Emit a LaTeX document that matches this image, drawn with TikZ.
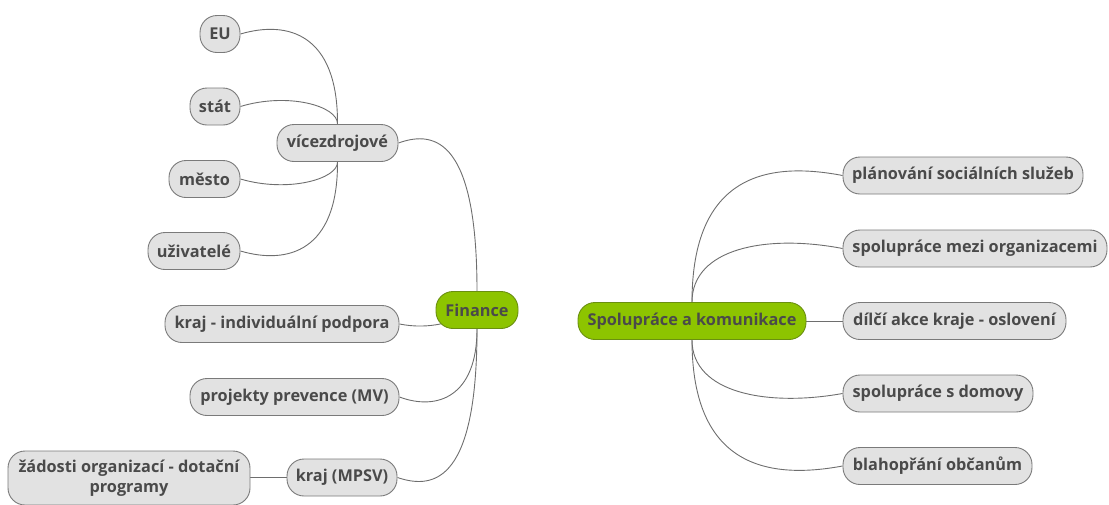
\documentclass[tikz,border=0pt]{standalone}
\usepackage{fontspec}
\setmainfont{Open Sans}
\usetikzlibrary{backgrounds}
\definecolor{boxfill}{HTML}{E2E2E2}
\definecolor{boxline}{HTML}{7A7A7A}
\definecolor{boxtext}{HTML}{4A4A4A}
\definecolor{rootfill}{HTML}{8DC400}
\definecolor{rootline}{HTML}{6A8F10}
\definecolor{linkcol}{HTML}{6E6E6E}
\tikzset{
  topic/.style={draw=boxline, fill=boxfill, text=boxtext, line width=0.9pt,
    rounded corners=17pt, minimum height=37pt, inner xsep=2pt, inner ysep=2pt,
    font=\fontsize{16.3}{20}\selectfont\bfseries, align=center},
  root/.style={topic, draw=rootline, fill=rootfill},
  link/.style={draw=linkcol, line width=0.9pt},
}
\begin{document}
\begin{tikzpicture}[x=1pt,y=-1pt]
\useasboundingbox (0,0) rectangle (1109,504);
% left side
\node[root, minimum width=82pt] (fin) at (477,310) {Finance};
\node[topic, minimum width=121pt] (vic) at (337.5,143) {vícezdrojové};
\node[topic, minimum width=40pt] (eu) at (220,34) {EU};
\node[topic, minimum width=50pt] (stat) at (215,106.5) {stát};
\node[topic, minimum width=71pt] (mesto) at (204.5,179) {město};
\node[topic, minimum width=92pt] (uziv) at (194,251) {uživatelé};
\node[topic, minimum width=234pt] (kind) at (282,324) {kraj - individuální podpora};
\node[topic, minimum width=209pt] (proj) at (294.5,397) {projekty prevence (MV)};
\node[topic, minimum width=110pt] (mpsv) at (342,477.5) {kraj (MPSV)};
\node[topic, minimum width=242pt, minimum height=54pt, inner ysep=1pt] (zad) at (129,478)
  {žádosti organizací - dotační\\programy};
% right side
\node[root, minimum width=228pt] (spol) at (692,321) {Spolupráce a komunikace};
\node[topic, minimum width=240pt] (plan) at (963,175.5) {plánování sociálních služeb};
\node[topic, minimum width=264pt] (mezi) at (975,248.5) {spolupráce mezi organizacemi};
\node[topic, minimum width=223pt] (dilci) at (954.5,321) {dílčí akce kraje - oslovení};
\node[topic, minimum width=190pt] (domov) at (938,393.5) {spolupráce s domovy};
\node[topic, minimum width=189pt] (blaho) at (937.5,466) {blahopřání občanům};
\begin{scope}[on background layer]
% Finance branches
\draw[link] (fin.north) .. controls (477,143) and (437,129) .. (vic.east);
\draw[link] (fin.center) .. controls (455,322) and (430,330) .. (kind.east);
\draw[link] (fin.south) .. controls (477,397) and (437,411) .. (proj.east);
\draw[link] (fin.south) .. controls (477,477) and (437,491) .. (mpsv.east);
\draw[link] (mpsv.west) -- (zad.east |- mpsv.west);
% vicezdrojove branches
\draw[link] (vic.north) .. controls (338,34) and (288,20) .. (eu.east);
\draw[link] (vic.north) .. controls (338,106) and (288,92) .. (stat.east);
\draw[link] (vic.south) .. controls (338,179) and (288,193) .. (mesto.east);
\draw[link] (vic.south) .. controls (338,251) and (288,265) .. (uziv.east);
% Spoluprace branches
\draw[link] (spol.north) .. controls (692,175) and (767,161) .. (plan.west);
\draw[link] (spol.north) .. controls (692,248) and (767,234) .. (mezi.west);
\draw[link] (spol.east) -- (dilci.west);
\draw[link] (spol.south) .. controls (692,393) and (767,407) .. (domov.west);
\draw[link] (spol.south) .. controls (692,466) and (767,480) .. (blaho.west);
\end{scope}
\end{tikzpicture}
\end{document}
